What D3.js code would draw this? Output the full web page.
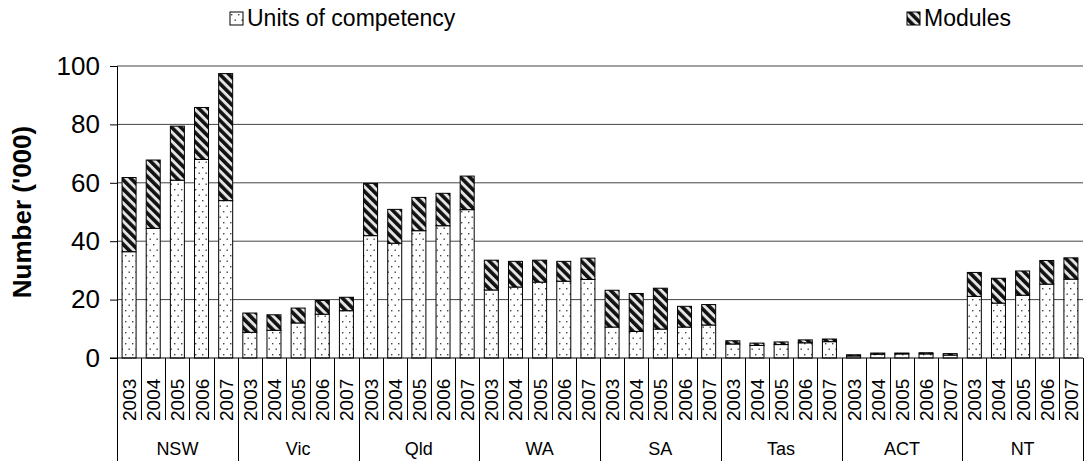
<!DOCTYPE html>
<meta charset="utf-8">
<head>
    <script src="https://d3js.org/d3.v7.min.js"></script>
    <style>
        body { margin: 0; background: #fff; }
        text { font-family: "Liberation Sans", Arial, sans-serif; fill: #000; }
    </style>
</head>
<body>
<div id="graph"></div>
<script>
    // data
    var states = ["NSW", "Vic", "Qld", "WA", "SA", "Tas", "ACT", "NT"];
    var years = ["2003", "2004", "2005", "2006", "2007"];
    // units of competency ('000), state by state, 2003-2007
    var units = [
        36.4, 44.4, 60.9, 68.0, 53.9,
        8.8, 9.5, 12.0, 15.0, 16.2,
        41.9, 39.3, 43.6, 45.3, 50.8,
        23.3, 24.3, 26.0, 26.3, 26.9,
        10.6, 9.1, 9.9, 10.6, 11.3,
        4.8, 4.3, 4.6, 5.2, 5.6,
        0.7, 1.3, 1.4, 1.4, 1.0,
        21.1, 18.8, 21.5, 25.3, 27.0
    ];
    // modules ('000)
    var modules = [
        25.4, 23.4, 18.5, 17.8, 43.5,
        6.6, 5.3, 5.1, 4.7, 4.6,
        17.9, 11.6, 11.4, 11.1, 11.5,
        10.2, 8.8, 7.5, 6.8, 7.3,
        12.6, 13.0, 14.0, 7.1, 7.0,
        1.1, 0.8, 0.9, 1.0, 0.9,
        0.4, 0.4, 0.3, 0.4, 0.5,
        8.2, 8.5, 8.3, 8.1, 7.3
    ];
    var yTicks = [0, 20, 40, 60, 80, 100];
    var seriesNames = ["Units of competency", "Modules"];

    var W = 1085, H = 461;
    var margin = {top: 66, right: 2, bottom: 103, left: 117};
    var width = W - margin.left - margin.right,
        height = H - margin.top - margin.bottom;

    var rows = [];
    states.forEach(function(s, i) {
        years.forEach(function(yr, j) {
            var k = i * 5 + j;
            rows.push({key: s + "-" + yr, state: s, year: yr, units: units[k], modules: modules[k]});
        });
    });

    var svg = d3.select("#graph").append("svg")
        .attr("width", W)
        .attr("height", H);

    // patterns
    var defs = svg.append("defs");
    var dots = defs.append("pattern")
        .attr("id", "dots")
        .attr("patternUnits", "userSpaceOnUse")
        .attr("width", 7).attr("height", 11);
    dots.append("rect").attr("width", 7).attr("height", 11).attr("fill", "#fff");
    dots.append("rect").attr("x", 1).attr("y", 2).attr("width", 1.4).attr("height", 1.4).attr("fill", "#444");
    dots.append("rect").attr("x", 4.5).attr("y", 7.5).attr("width", 1.4).attr("height", 1.4).attr("fill", "#444");

    var stripes = defs.append("pattern")
        .attr("id", "stripes")
        .attr("patternUnits", "userSpaceOnUse")
        .attr("width", 6.5).attr("height", 6.5)
        .attr("patternTransform", "rotate(-45)");
    stripes.append("rect").attr("width", 6.5).attr("height", 6.5).attr("fill", "#e4e4e4");
    stripes.append("rect").attr("width", 3.6).attr("height", 6.5).attr("fill", "#111");

    var g = svg.append("g")
        .attr("transform", "translate(" + margin.left + "," + margin.top + ")");

    var x = d3.scaleBand()
        .domain(rows.map(function(d) { return d.key; }))
        .range([0, width])
        .paddingInner(0.42)
        .paddingOuter(0.21);

    var y = d3.scaleLinear()
        .domain([0, 100])
        .range([height, 0]);

    // gridlines
    g.append("g")
        .selectAll("line")
        .data(yTicks.filter(function(t) { return t > 0; }))
        .enter().append("line")
        .attr("x1", 0).attr("x2", width)
        .attr("y1", function(d) { return y(d); })
        .attr("y2", function(d) { return y(d); })
        .attr("stroke", "#444")
        .attr("stroke-width", 1);

    // y axis
    var yAxis = g.append("g")
        .call(d3.axisLeft(y).tickValues(yTicks).tickSize(7).tickPadding(10));
    yAxis.select(".domain").attr("stroke", "#000");
    yAxis.selectAll(".tick line").attr("stroke", "#000");
    yAxis.selectAll("text")
        .style("font-size", "26px")
        .style("font-family", "Liberation Sans, Arial, sans-serif");

    // axis title
    svg.append("text")
        .attr("transform", "translate(31," + (margin.top + height / 2) + ") rotate(-90)")
        .attr("text-anchor", "middle")
        .style("font-size", "26px")
        .style("font-weight", "bold")
        .text("Number ('000)");

    // bars
    var bars = g.append("g").selectAll("g")
        .data(rows)
        .enter().append("g");
    bars.append("rect")
        .attr("x", function(d) { return x(d.key); })
        .attr("width", x.bandwidth())
        .attr("y", function(d) { return y(d.units); })
        .attr("height", function(d) { return y(0) - y(d.units); })
        .attr("fill", "url(#dots)")
        .attr("stroke", "#000")
        .attr("stroke-width", 1);
    bars.append("rect")
        .attr("x", function(d) { return x(d.key); })
        .attr("width", x.bandwidth())
        .attr("y", function(d) { return y(d.units + d.modules); })
        .attr("height", function(d) { return y(d.units) - y(d.units + d.modules); })
        .attr("fill", "url(#stripes)")
        .attr("stroke", "#000")
        .attr("stroke-width", 1);

    // x axis baseline
    g.append("line")
        .attr("x1", -7).attr("x2", width)
        .attr("y1", height).attr("y2", height)
        .attr("stroke", "#000");

    // category separators
    var bounds = d3.range(rows.length + 1);
    g.append("g").selectAll("line")
        .data(bounds)
        .enter().append("line")
        .attr("x1", function(i) { return Math.round(i * width / rows.length) + 0.5; })
        .attr("x2", function(i) { return Math.round(i * width / rows.length) + 0.5; })
        .attr("y1", height)
        .attr("y2", function(i) { return i % 5 === 0 ? H - margin.top : height + 62; })
        .attr("stroke", "#000");

    // year labels
    g.append("g").selectAll("text")
        .data(rows)
        .enter().append("text")
        .attr("transform", function(d) {
            return "translate(" + (x(d.key) + x.bandwidth() / 2 + 7) + "," + (height + 63) + ") rotate(-90)";
        })
        .style("font-size", "19px")
        .text(function(d) { return d.year; });

    // state labels
    g.append("g").selectAll("text")
        .data(states)
        .enter().append("text")
        .attr("x", function(s, i) { return (i * 5 + 2.5) * width / rows.length; })
        .attr("y", height + 97)
        .attr("text-anchor", "middle")
        .style("font-size", "18px")
        .text(function(s) { return s; });

    // legend
    var legendX = [230, 907];
    var legend = svg.append("g").selectAll("g")
        .data(seriesNames)
        .enter().append("g")
        .attr("transform", function(d, i) { return "translate(" + legendX[i] + ",12)"; });
    legend.append("rect")
        .attr("width", 13).attr("height", 13)
        .attr("fill", function(d, i) { return i === 0 ? "url(#dots)" : "url(#stripes)"; })
        .attr("stroke", "#000");
    legend.append("text")
        .attr("x", 17).attr("y", 14)
        .style("font-size", "23px")
        .text(function(d) { return d; });
</script>
</body>
